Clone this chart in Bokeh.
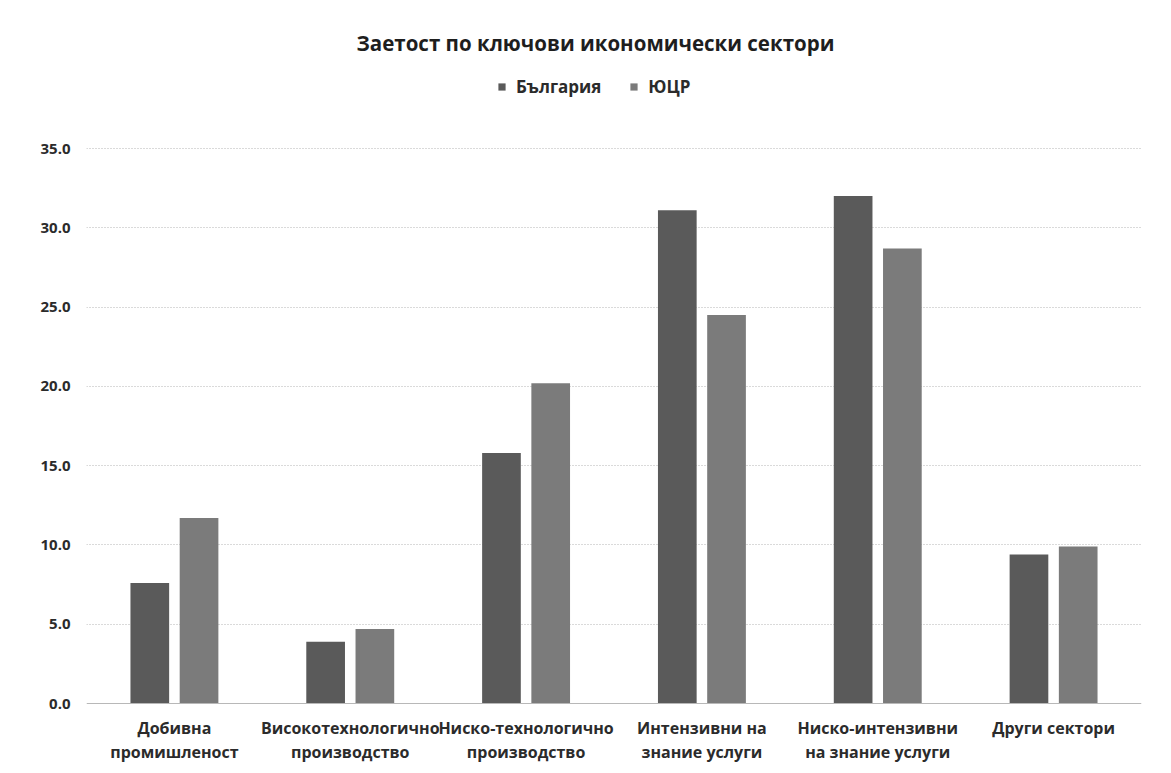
from bokeh.plotting import figure
from bokeh.models import (FactorRange, Range1d, ColumnDataSource, Legend, LegendItem, Label,
                          LabelSet, Span, FixedTicker, NumeralTickFormatter)
from bokeh.core.properties import value
from bokeh.transform import dodge
from bokeh.embed import file_html
from bokeh.resources import INLINE

categories = ["Добивна промишленост", "Високотехнологично производство",
              "Ниско-технологично производство", "Интензивни на знание услуги",
              "Ниско-интензивни на знание услуги", "Други сектори"]
label_line1 = ["Добивна", "Високотехнологично", "Ниско-технологично",
               "Интензивни на", "Ниско-интензивни", "Други сектори"]
label_line2 = ["промишленост", "производство", "производство",
               "знание услуги", "на знание услуги", ""]
bulgaria = [7.6, 3.9, 15.8, 31.1, 32.0, 9.4]
yutsr = [11.7, 4.7, 20.2, 24.5, 28.7, 9.9]
y_ticks = [0, 5, 10, 15, 20, 25, 30, 35]
title_text = "Заетост по ключови икономически сектори"

FONT = "Open Sans"
TXT = "#2b2b2b"

W, H = 1165, 770
ZERO_PX = 703               # pixel row of value 0
PX_PER_UNIT = (703 - 148) / 35
y_top = ZERO_PX / PX_PER_UNIT
y_bottom = -(H - ZERO_PX) / PX_PER_UNIT

src = ColumnDataSource(dict(cat=categories, bg=bulgaria, yc=yutsr,
                            l1=label_line1, l2=label_line2, zero=[0] * len(categories)))

p = figure(width=W, height=H, x_range=FactorRange(*categories, range_padding=0),
           y_range=Range1d(y_bottom, y_top), output_backend="svg", toolbar_location=None,
           min_border_left=86, min_border_right=W - 1141, min_border_top=0,
           min_border_bottom=0)

r1 = p.vbar(x=dodge("cat", -0.14, range=p.x_range), top="bg", width=0.22, source=src,
            fill_color="#5a5a5a", line_color=None)
r2 = p.vbar(x=dodge("cat", 0.14, range=p.x_range), top="yc", width=0.22, source=src,
            fill_color="#7b7b7b", line_color=None)

p.outline_line_color = None
p.xgrid.grid_line_color = None
p.ygrid.grid_line_color = "#b4b4b4"
p.ygrid.grid_line_dash = "1 2"
p.ygrid.ticker = FixedTicker(ticks=y_ticks[1:])

p.xaxis.visible = False
p.add_layout(Span(location=0, dimension="width", line_color="#b8b8b8", line_width=1))

p.yaxis.ticker = FixedTicker(ticks=y_ticks)
p.yaxis.formatter = NumeralTickFormatter(format="0.0")
p.yaxis.axis_line_color = None
p.yaxis.major_tick_line_color = None
p.yaxis.minor_tick_line_color = None
p.yaxis.major_label_standoff = 10
p.yaxis.major_label_text_font = FONT
p.yaxis.major_label_text_font_size = "15px"
p.yaxis.major_label_text_font_style = "bold"
p.yaxis.major_label_text_color = TXT

for col, off in (("l1", -24), ("l2", -48)):
    p.add_layout(LabelSet(x="cat", y="zero", text=col, source=src, y_offset=off,
                          text_align="center", text_baseline="middle",
                          text_font=value(FONT), text_font_size=value("16px"),
                          text_font_style="bold", text_color=TXT))

legend = Legend(items=[LegendItem(label="България", renderers=[r1]),
                       LegendItem(label="ЮЦР", renderers=[r2])],
                orientation="horizontal", location=(411, H - 98),
                label_text_font=FONT, label_text_font_size="17px",
                label_text_font_style="bold", label_text_color=TXT,
                glyph_width=9, glyph_height=9, spacing=28, label_standoff=10,
                border_line_color=None, background_fill_alpha=0,
                margin=0, padding=0)
p.add_layout(legend, "center")

p.add_layout(Label(x=509, y=H - 42, x_units="screen", y_units="screen", text=title_text,
                   text_align="center", text_baseline="middle", text_font=FONT,
                   text_font_size="20.5px", text_font_style="bold", text_color="#1e1e1e"))

open("out.html", "w").write(file_html(p, INLINE))
